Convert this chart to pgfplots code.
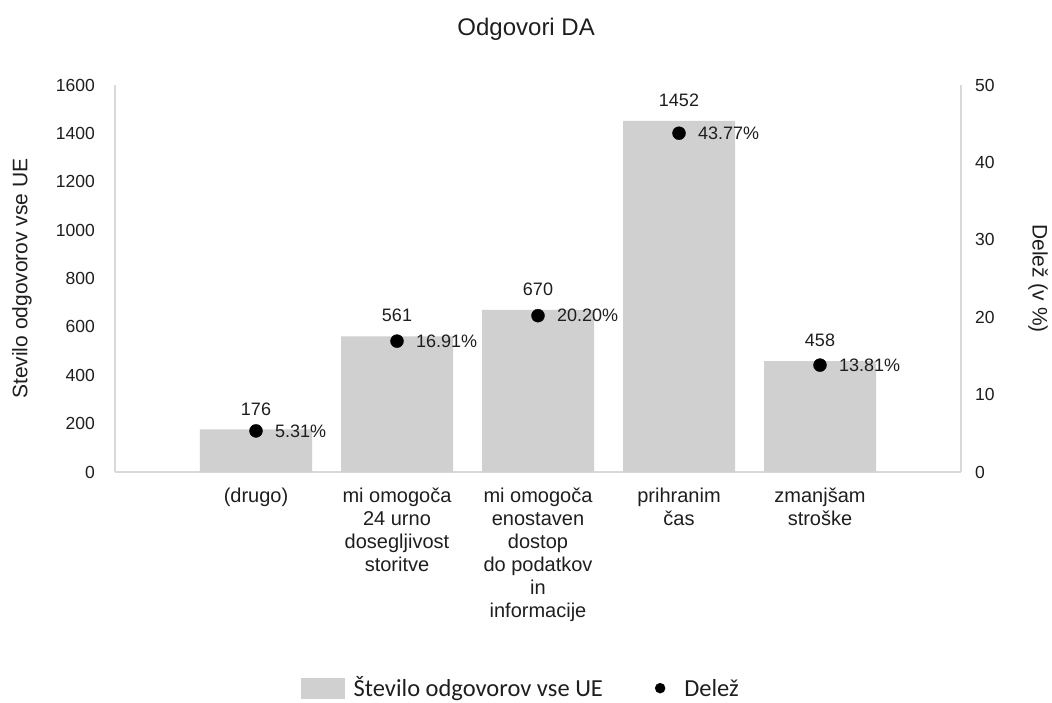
\documentclass[border=0pt]{standalone}
\usepackage{fontspec}
\setmainfont{Liberation Sans}
\newfontfamily\calibri{Carlito}
\usepackage{pgfplots}
\pgfplotsset{compat=1.18}
\definecolor{barfill}{RGB}{208,208,208}
\definecolor{axisgray}{RGB}{217,217,217}
\definecolor{txt}{RGB}{30,30,30}
\pgfplotsset{/pgf/number format/assume math mode=true, /pgf/number format/1000 sep={}}
\begin{document}
\begin{tikzpicture}
\useasboundingbox (0,0) rectangle (1052pt,702pt);
\begin{axis}[
  at={(115pt,230pt)}, anchor=south west,
  scale only axis, width=846pt, height=387pt,
  xmin=-1, xmax=5, ymin=0, ymax=1600,
  ybar, bar width=112pt,
  axis x line*=bottom, axis y line*=left,
  axis line style={draw=axisgray, line width=1.2pt, -},
  xtick={0,1,2,3,4},
  xticklabels={{(drugo)},{mi omogoča\\24 urno\\dosegljivost\\storitve},{mi omogoča\\enostaven\\dostop\\do podatkov\\in\\informacije},{prihranim\\čas},{zmanjšam\\stroške}},
  ytick={0,200,...,1600},
  major tick length=0pt,
  tick label style={font=\fontsize{17.5}{20}\selectfont, text=txt},
  yticklabel style={inner sep=0pt, anchor=east, xshift=-20pt},
  xticklabel style={font=\fontsize{20}{23}\selectfont, align=center, inner sep=0pt, anchor=north, yshift=-16pt},
  nodes near coords,
  nodes near coords style={font=\fontsize{18}{20}\selectfont, text=txt, inner sep=0pt, anchor=south, yshift=14pt},
  every axis y label/.style={at={(axis description cs:-0.110,0.5)}, rotate=90, anchor=center, font=\fontsize{21}{24}\selectfont, text=txt},
  ylabel={Stevilo odgovorov vse UE},
  title={Odgovori DA},
  title style={at={(axis description cs:0.486,1.129)}, anchor=center, font=\fontsize{24}{28}\selectfont, text=txt},
]
\addplot[fill=barfill, draw=none] coordinates {(0,176) (1,561) (2,670) (3,1452) (4,458)};
\end{axis}
\begin{axis}[
  at={(115pt,230pt)}, anchor=south west,
  scale only axis, width=846pt, height=387pt,
  xmin=-1, xmax=5, ymin=0, ymax=50,
  axis y line*=right, axis x line=none,
  axis line style={draw=axisgray, line width=1.2pt, -},
  ytick={0,10,...,50},
  major tick length=0pt,
  tick label style={font=\fontsize{17.5}{20}\selectfont, text=txt},
  yticklabel style={inner sep=0pt, anchor=west, xshift=14pt},
  every axis y label/.style={at={(axis description cs:1.091,0.5)}, rotate=-90, anchor=center, font=\fontsize{21}{24}\selectfont, text=txt},
  ylabel={Delež (v \%)},
  point meta=explicit symbolic,
  nodes near coords={\pgfplotspointmeta},
  nodes near coords style={font=\fontsize{18}{20}\selectfont, text=txt, inner sep=0pt, anchor=west, xshift=19pt},
  legend columns=2,
  legend style={at={(0.48,-0.556)}, anchor=center, draw=none, fill=none, inner sep=0pt,
    font=\calibri\fontsize{24.5}{28}\selectfont, text=txt,
    /tikz/every even column/.append style={column sep=50pt}},
]
\addlegendimage{legend image code/.code={\fill[barfill] (0pt,-11pt) rectangle (43pt,9pt); \path (50pt,-12pt) (50pt,12pt);}}
\addlegendentry{\strut Število odgovorov vse UE}
\addplot[only marks, mark=*, mark size=6.5pt, mark options={fill=black, draw=black},
  legend image code/.code={\fill[black] (5pt,-1pt) circle (5pt); \path (27pt,-12pt) (27pt,12pt);}]
  coordinates {(0,5.31) [5.31\%] (1,16.91) [16.91\%] (2,20.20) [20.20\%] (3,43.77) [43.77\%] (4,13.81) [13.81\%]};
\addlegendentry{\strut Delež}
\end{axis}
\end{tikzpicture}
\end{document}
